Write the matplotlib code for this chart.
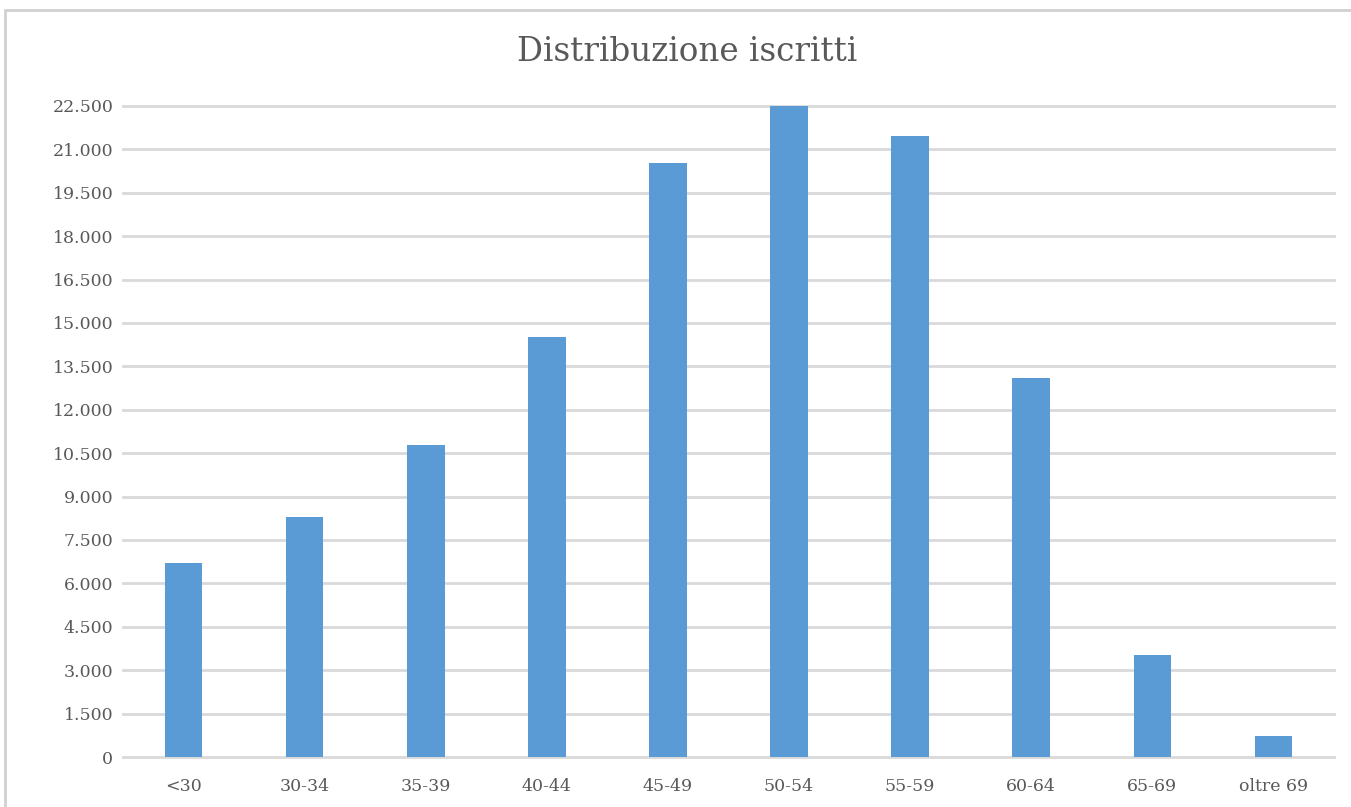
import matplotlib
matplotlib.use("Agg")
from matplotlib import pyplot as plt
from matplotlib.patches import Rectangle
from matplotlib.ticker import FuncFormatter

# dati
categories = ["<30", "30-34", "35-39", "40-44", "45-49", "50-54", "55-59", "60-64", "65-69", "oltre 69"]
iscritti = [6700, 8300, 10780, 14510, 20530, 22540, 21460, 13100, 3520, 720]
y_ticks = list(range(0, 22501, 1500))

bar_color = "#5B9BD5"
grid_color = "#D9D9D9"
text_color = "#595959"


def fmt_thousands(v, pos):
    return "{:,.0f}".format(v).replace(",", ".")


def main():
    plt.rcParams['font.family'] = ['DejaVu Serif']

    fig = plt.figure(figsize=(13.51, 8.07), dpi=100)
    ax = fig.add_axes([123 / 1351, 1 - 757 / 807, (1334 - 123) / 1351, (757 - 106) / 807])

    # cornice esterna del grafico
    fig.patches.append(Rectangle((5 / 1351, -0.05), 1.1, 1 - 10 / 807 + 0.05,
                                 transform=fig.transFigure, fill=False,
                                 edgecolor="#D0D0D0", linewidth=2))

    x = range(len(categories))
    ax.bar(x, iscritti, width=0.31, color=bar_color, zorder=3)

    ax.set_xlim(-0.5, len(categories) - 0.5)
    ax.set_ylim(0, 22500)
    ax.set_yticks(y_ticks)
    ax.yaxis.set_major_formatter(FuncFormatter(fmt_thousands))
    ax.set_xticks(list(x))
    ax.set_xticklabels(categories)

    ax.grid(axis='y', color=grid_color, linewidth=2, zorder=0)
    for gl in ax.get_ygridlines():
        gl.set_clip_on(False)
    for s in ax.spines.values():
        s.set_visible(False)
    ax.tick_params(axis='both', length=0, labelsize=12.5, colors=text_color)
    ax.tick_params(axis='x', pad=15)
    ax.tick_params(axis='y', pad=7)

    fig.text(687 / 1351, 1 - 52 / 807, "Distribuzione iscritti", ha='center', va='center',
             fontsize=23.5, color=text_color)

    plt.savefig("out.png", dpi=100)


if __name__ == '__main__':
    main()
